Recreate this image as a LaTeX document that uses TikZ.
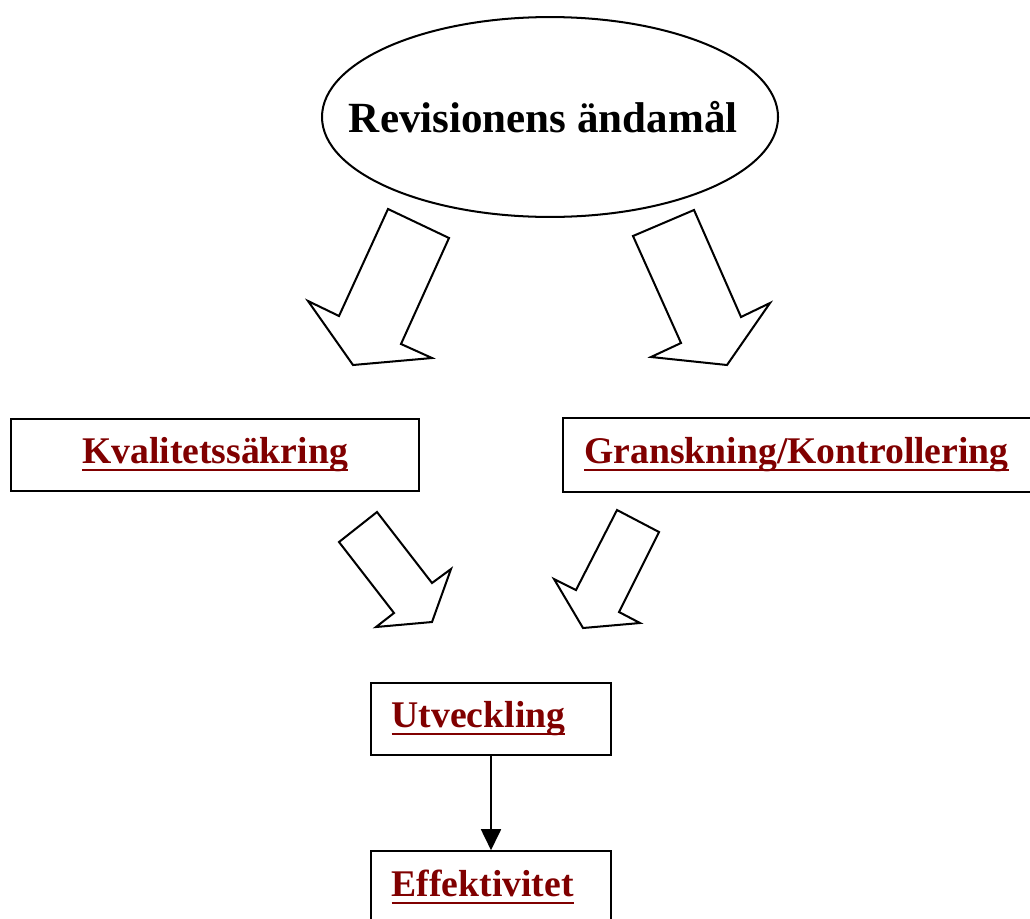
\documentclass[tikz,border=0pt]{standalone}
\usepackage{fontspec}
\setmainfont{Liberation Serif}
\usepackage{tikz}
\usetikzlibrary{shapes,arrows.meta,positioning}
\definecolor{darkred}{RGB}{128,0,0}
\newcommand{\ulword}[1]{\setbox0\hbox{#1}\rlap{\rule[-2.6pt]{\wd0}{0.8pt}}\box0}

\begin{document}
\begin{tikzpicture}[
        x=0.3717pt, y=-0.3717pt,
        line width=0.75pt,
        goal/.style={ellipse, draw, inner sep=0pt, minimum width=169.5pt, minimum height=74.3pt,
            font=\fontsize{16}{19}\selectfont\bfseries},
        area/.style={rectangle, draw, inner sep=0pt, minimum height=26.6pt, text=darkred,
            font=\fontsize{14}{17}\selectfont\bfseries},
        leftbox/.style={area, inner xsep=7.6pt, align=left},
        fat/.style={draw, line join=miter}
    ]
        \useasboundingbox (0,0) rectangle (1030,918);

        \node (goal) [goal] at (550,117) {\makebox[0pt]{Revisionens ändamål\hspace{5pt}}};

        \node (kval) [area, minimum width=151.6pt] at (215,455) {\ulword{Kvalitetssäkring}};
        \node (gran) [leftbox, draw=none, anchor=west, text width=172pt] at (563,455) {\ulword{Granskning/Kontrollering}};
        \draw (gran.north east) -- (gran.north west) -- (gran.south west) -- (gran.south east);
        \node (utv) [leftbox, text width=73.9pt] at (491,719) {\ulword{Utveckling}};
        \node (eff) [leftbox, text width=73.9pt] at (491,887) {\ulword{Effektivitet}};

        % block arrows
        \draw[fat] (388,209) -- (449,238) -- (401,344) -- (432,358) -- (353,365)
            -- (308,301) -- (339,316) -- cycle;
        \draw[fat] (633,236) -- (694,210) -- (741,317) -- (770,303) -- (727,365)
            -- (651,357) -- (681,343) -- cycle;
        \draw[fat] (377,512) -- (339,542) -- (394,613) -- (376,627) -- (432,622)
            -- (451,569) -- (432,583) -- cycle;
        \draw[fat] (617,510) -- (659,532) -- (619,612) -- (640,623) -- (583,628)
            -- (554,579) -- (576,590) -- cycle;

        \draw[-{Triangle[length=7.8pt,width=7.4pt]}] (utv) -- (eff);
    \end{tikzpicture}
\end{document}
